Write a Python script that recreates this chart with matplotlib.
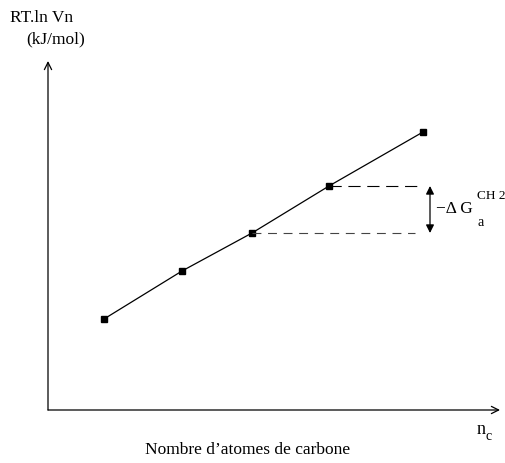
import matplotlib
matplotlib.use("Agg")
import matplotlib.pyplot as plt

plt.rcParams['font.family'] = ['Liberation Serif', 'DejaVu Serif']

# points along the line (arbitrary units, origin at the axes corner)
nc = [56, 134, 204, 281, 375]
rtlnvn = [91, 139, 177, 224, 278]

# ends of the dashed guide lines and position of the double arrow
top_dash_end = 375
low_dash_end = 367
arrow_x = 382

fig = plt.figure(figsize=(5.05, 4.63), dpi=100)
ax = fig.add_axes([0, 0, 1, 1])
ax.set_xlim(-48, 457)
ax.set_ylim(-53, 410)
ax.axis('off')

# axes drawn as arrows
ax.annotate('', xy=(452, 0), xytext=(0, 0),
            arrowprops=dict(arrowstyle='->', lw=0.9, color='black',
                            shrinkA=0, shrinkB=0, mutation_scale=13))
ax.annotate('', xy=(0, 349), xytext=(0, 0),
            arrowprops=dict(arrowstyle='->', lw=0.9, color='black',
                            shrinkA=0, shrinkB=0, mutation_scale=13))

ax.plot(nc, rtlnvn, color='black', lw=0.9, marker='s', markersize=5)

# dashed guides
ax.plot([nc[3], top_dash_end], [rtlnvn[3], rtlnvn[3]], color='black',
        lw=0.8, dashes=(11, 6))
ax.plot([nc[2], low_dash_end], [rtlnvn[2], rtlnvn[2]], color='#444444',
        lw=0.8, dashes=(8, 6))

ax.annotate('', xy=(arrow_x, rtlnvn[3]), xytext=(arrow_x, rtlnvn[2]),
            arrowprops=dict(arrowstyle='<|-|>', lw=0.9, color='black',
                            shrinkA=0, shrinkB=0, mutation_scale=12))

ax.text(388, 201, '\u2212\u0394 G', fontsize=12.5, ha='left', va='center')
ax.text(429, 214, 'CH 2', fontsize=9.5, ha='left', va='center')
ax.text(430, 188, 'a', fontsize=10, ha='left', va='center')

# axis labels
ax.text(-38, 392, 'RT.ln Vn', fontsize=12.5, ha='left', va='center')
ax.text(-22, 371, '(kJ/mol)', fontsize=12.5, ha='left', va='center')
ax.text(429, -20, 'n', fontsize=13, ha='left', va='center')
ax.text(437, -27, 'c', fontsize=10, ha='left', va='center')
ax.text(200, -40, 'Nombre d\u2019atomes de carbone', fontsize=12.5,
        ha='center', va='center')

fig.savefig('out.png', dpi=100)
